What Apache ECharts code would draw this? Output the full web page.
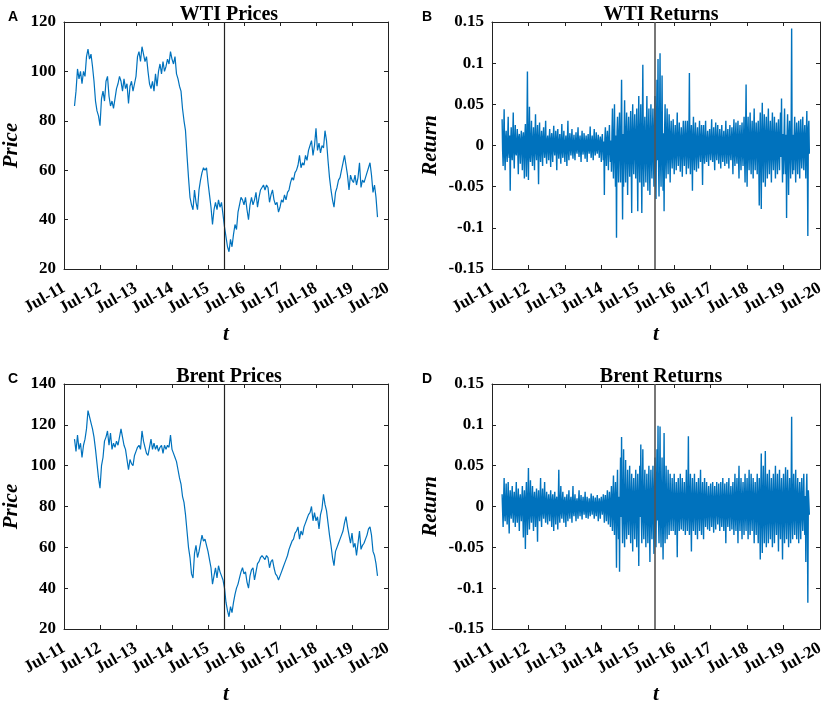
<!DOCTYPE html>
<html lang="en">
<head>
    <meta charset="UTF-8">
    <title>WTI and Brent</title>
    <script src="https://cdn.jsdelivr.net/npm/echarts@6/dist/echarts.min.js"></script>
    <style type="text/css">
        body { margin: 0; background: #fff; }
    </style>
</head>
<body>
<div id="myChart" style="width: 829px;height:706px;"></div>

<script>
    // x axis is "months since Jul-11"; one tick per year
    var tickYears = ['Jul-11', 'Jul-12', 'Jul-13', 'Jul-14', 'Jul-15', 'Jul-16', 'Jul-17', 'Jul-18', 'Jul-19', 'Jul-20'];
    var breakMonth = 53.5;   // the vertical line

    // prices, read every half month from month 3.5
    var priceStart = 3.5, priceStep = 0.5;
    var wtiPrice = [
        86, 92, 101, 97, 100, 95, 100, 98, 106, 109, 105, 107, 102, 96, 88, 84, 82, 78, 89, 92,
        88, 96, 98, 90, 86, 88, 85, 89, 93, 95, 98, 96, 92, 97, 93, 95, 87, 94, 96, 92,
        95, 98, 106, 108, 104, 110, 107, 104, 106, 100, 95, 93, 96, 92, 99, 94, 100, 103, 99, 104,
        100, 102, 105, 103, 108, 105, 103, 106, 99, 97, 94, 92, 85, 80, 76, 66, 57, 49, 46, 44,
        52, 47, 44, 52, 56, 59, 61, 60, 61, 55, 50, 45, 38, 44, 47, 44, 48, 45, 47, 42,
        37, 33, 29, 27, 32, 29, 34, 38, 36, 43, 46, 49, 48, 46, 49, 44, 40, 46, 49, 46,
        48, 51, 45, 49, 52, 53, 54, 52, 54, 53, 47, 50, 52, 48, 46, 47, 43, 45, 48, 47,
        50, 48, 51, 52, 55, 57, 56, 59, 60, 62, 66, 61, 63, 62, 66, 64, 68, 70, 72, 66,
        70, 77, 68, 71, 67, 70, 69, 76, 72, 64, 57, 52, 48, 45, 51, 53, 56, 57, 60, 63,
        66, 62, 58, 52, 58, 56, 55, 58, 54, 57, 63, 53, 56, 55, 57, 59, 61, 63, 58, 51,
        54, 49, 41
    ];
    var brentPrice = [
        113, 107, 115, 108, 111, 104, 110, 113, 118, 127, 124, 121, 118, 114, 108, 101, 94, 89, 100, 104,
        112, 114, 117, 110, 116, 108, 111, 109, 112, 110, 114, 118, 114, 110, 108, 103, 98, 103, 101, 100,
        105, 107, 109, 110, 108, 117, 112, 109, 106, 105, 109, 113, 108, 111, 108, 110, 107, 109, 110, 106,
        110, 108, 110, 109, 115, 108, 106, 104, 102, 98, 94, 91, 85, 82, 76, 68, 60, 55, 47, 45,
        57, 61, 55, 58, 62, 66, 63, 64, 61, 58, 54, 50, 42, 46, 50, 45, 51, 48, 46, 44,
        40, 33, 29, 26, 31, 28, 33, 37, 40, 42, 45, 48, 50, 47, 48, 43, 40, 46, 49, 50,
        44, 48, 52, 53, 55, 56, 55, 54, 56, 55, 50, 53, 54, 50, 47, 46, 44, 46, 48, 50,
        52, 54, 56, 59, 61, 63, 64, 67, 68, 70, 64, 68, 66, 70, 72, 74, 76, 77, 80, 73,
        77, 73, 75, 69, 76, 79, 86, 81, 78, 72, 66, 61, 55, 51, 58, 60, 62, 64, 66, 68,
        72, 75, 70, 66, 62, 67, 60, 62, 56, 62, 68, 59, 61, 62, 64, 66, 69, 70, 66, 58,
        56, 52, 46
    ];

    // returns, read six per month from month 3.33
    var retStart = 3.33, retStep = 1 / 6;
    var wtiReturn = [
        0.032, -0.006, -0.025, 0.010, 0.044, -0.012, -0.030, 0.008, 0.018, -0.010, -0.020, 0.006, 0.035, -0.008, -0.015, 0.012, -0.055, 0.004, 0.022, -0.010, -0.018, 0.009, 0.040, -0.007,
        -0.028, 0.006, 0.025, -0.009, -0.012, 0.004, 0.020, -0.008, -0.035, 0.010, 0.014, -0.005, -0.022, 0.007, 0.018, -0.006, -0.030, 0.009, 0.016, -0.008, -0.040, 0.011, 0.026, -0.006,
        -0.038, 0.012, 0.090, -0.010, -0.042, 0.008, 0.047, -0.012, -0.020, 0.006, 0.030, -0.009, -0.025, 0.007, 0.022, -0.008, -0.030, 0.010, 0.038, -0.006, -0.018, 0.008, 0.025, -0.010,
        -0.047, 0.009, 0.028, -0.007, -0.020, 0.006, 0.018, -0.008, -0.025, 0.010, 0.022, -0.005, -0.015, 0.007, 0.030, -0.009, -0.022, 0.006, 0.012, -0.004, -0.018, 0.008, 0.020, -0.006,
        -0.026, 0.007, 0.015, -0.006, -0.020, 0.008, 0.024, -0.005, -0.012, 0.004, 0.018, -0.007, -0.030, 0.009, 0.020, -0.006, -0.016, 0.005, 0.014, -0.008, -0.022, 0.006, 0.026, -0.007,
        -0.015, 0.005, 0.018, -0.006, -0.020, 0.004, 0.012, -0.005, -0.025, 0.007, 0.030, -0.006, -0.018, 0.005, 0.015, -0.004, -0.012, 0.006, 0.020, -0.005, -0.016, 0.004, 0.013, -0.006,
        -0.018, 0.004, 0.016, -0.005, -0.010, 0.006, 0.022, -0.004, -0.014, 0.005, 0.012, -0.006, -0.020, 0.004, 0.018, -0.005, -0.011, 0.003, 0.015, -0.005, -0.016, 0.004, 0.012, -0.004,
        -0.020, 0.005, 0.014, -0.004, -0.010, 0.003, 0.023, -0.005, -0.015, 0.004, 0.012, -0.006, -0.018, 0.005, 0.020, -0.004, -0.012, 0.003, 0.016, -0.005, -0.010, 0.004, 0.013, -0.003,
        -0.015, 0.004, 0.011, -0.005, -0.020, 0.006, 0.014, -0.004, -0.018, 0.005, -0.060, 0.008, 0.022, -0.006, -0.025, 0.007, 0.018, -0.005, -0.030, 0.008, 0.025, -0.007, -0.020, 0.006,
        -0.032, 0.012, 0.045, -0.015, -0.040, 0.010, 0.050, -0.014, -0.050, 0.012, -0.112, 0.016, 0.035, -0.012, -0.045, 0.014, 0.040, -0.010, -0.045, 0.015, 0.080, -0.012, -0.090, 0.014,
        -0.050, 0.015, 0.055, -0.012, -0.045, 0.016, 0.040, -0.014, -0.060, 0.012, 0.035, -0.015, -0.038, 0.013, 0.042, -0.016, -0.082, 0.014, 0.050, -0.012, -0.035, 0.015, 0.038, -0.013,
        -0.040, 0.014, 0.045, -0.016, -0.080, 0.015, 0.060, -0.013, -0.045, 0.016, 0.050, -0.014, -0.082, 0.012, 0.098, -0.015, -0.050, 0.014, 0.035, -0.016, -0.045, 0.013, 0.060, -0.015,
        -0.055, 0.016, 0.045, -0.018, -0.060, 0.015, 0.050, -0.017, -0.040, 0.018, 0.045, -0.016, -0.050, 0.019, 0.060, -0.018, -0.065, 0.020, 0.080, -0.018, 0.105, -0.020, -0.062, 0.018,
        0.112, -0.018, -0.050, 0.016, 0.085, -0.017, -0.055, 0.015, -0.080, 0.016, 0.050, -0.014, -0.040, 0.015, 0.045, -0.013, -0.035, 0.014, 0.038, -0.012, -0.045, 0.013, 0.030, -0.012,
        -0.028, 0.010, 0.032, -0.011, -0.035, 0.009, 0.025, -0.010, -0.030, 0.012, 0.040, -0.009, -0.025, 0.011, 0.028, -0.010, -0.032, 0.009, 0.022, -0.011, -0.038, 0.010, 0.030, -0.009,
        -0.025, 0.010, 0.030, -0.009, -0.035, 0.011, 0.030, -0.010, -0.028, 0.009, 0.088, -0.011, -0.035, 0.010, 0.025, -0.009, -0.055, 0.011, 0.035, -0.010, -0.030, 0.009, 0.028, -0.010,
        -0.032, 0.009, 0.022, -0.010, -0.028, 0.008, 0.030, -0.009, -0.020, 0.010, 0.025, -0.008, -0.048, 0.009, 0.025, -0.010, -0.022, 0.008, 0.030, -0.009, -0.020, 0.007, 0.018, -0.008,
        -0.025, 0.008, 0.020, -0.007, -0.018, 0.009, 0.032, -0.008, -0.020, 0.007, 0.022, -0.009, -0.030, 0.008, 0.028, -0.007, -0.018, 0.009, 0.025, -0.008, -0.022, 0.007, 0.020, -0.009,
        -0.028, 0.009, 0.025, -0.008, -0.020, 0.007, 0.018, -0.009, -0.025, 0.008, 0.030, -0.007, -0.022, 0.009, 0.020, -0.008, -0.028, 0.007, 0.025, -0.009, -0.018, 0.008, 0.022, -0.007,
        -0.035, 0.011, 0.032, -0.010, -0.025, 0.012, 0.028, -0.011, -0.022, 0.010, 0.030, -0.012, -0.040, 0.011, 0.025, -0.010, -0.030, 0.012, 0.028, -0.011, -0.025, 0.010, 0.035, -0.012,
        -0.045, 0.012, 0.074, -0.011, -0.050, 0.013, 0.035, -0.012, -0.030, 0.011, 0.040, -0.013, -0.035, 0.012, 0.030, -0.011, -0.040, 0.013, 0.045, -0.012, -0.030, 0.011, 0.028, -0.012,
        -0.035, 0.013, 0.030, -0.014, -0.073, 0.012, 0.040, -0.015, -0.077, 0.014, 0.052, -0.013, -0.045, 0.015, 0.038, -0.012, -0.050, 0.014, 0.035, -0.013, -0.040, 0.015, 0.045, -0.014,
        -0.035, 0.013, 0.030, -0.012, -0.045, 0.014, 0.040, -0.013, -0.030, 0.012, 0.035, -0.014, -0.040, 0.013, 0.028, -0.012, -0.035, 0.014, 0.032, -0.013, -0.030, 0.012, 0.040, -0.014,
        0.057, -0.013, -0.045, 0.014, -0.035, 0.012, 0.045, -0.015, -0.035, 0.013, -0.088, 0.014, 0.038, -0.012, -0.060, 0.015, 0.030, -0.013, -0.040, 0.014, 0.142, -0.012, -0.035, 0.013,
        -0.030, 0.012, 0.035, -0.013, -0.045, 0.011, 0.028, -0.012, -0.035, 0.013, 0.030, -0.011, -0.040, 0.012, 0.032, -0.013, -0.028, 0.011, 0.035, -0.012, -0.030, 0.013, 0.025, -0.011,
        -0.040, 0.012, 0.042, -0.015, -0.110, 0.020, 0.030, -0.010
    ];
    var brentReturn = [
        0.015, -0.006, -0.025, 0.008, 0.035, -0.009, -0.018, 0.007, 0.028, -0.008, -0.022, 0.006, 0.030, -0.009, -0.033, 0.008, 0.020, -0.007, -0.015, 0.009, 0.025, -0.006, -0.020, 0.008,
        0.018, -0.007, -0.025, 0.008, 0.030, -0.009, -0.020, 0.006, 0.022, -0.008, -0.030, 0.009, 0.015, -0.007, -0.018, 0.008, 0.025, -0.009, -0.038, 0.007, 0.020, -0.008, -0.052, 0.009,
        0.030, -0.008, -0.035, 0.009, 0.047, -0.010, -0.028, 0.008, 0.032, -0.009, -0.020, 0.007, 0.025, -0.008, -0.030, 0.009, 0.018, -0.007, -0.025, 0.008, 0.022, -0.009, -0.043, 0.007,
        0.020, -0.007, -0.018, 0.006, 0.035, -0.008, -0.025, 0.007, 0.022, -0.006, -0.015, 0.008, 0.030, -0.007, -0.020, 0.006, 0.018, -0.008, -0.022, 0.007, 0.015, -0.006, -0.018, 0.007,
        0.020, -0.006, -0.025, 0.007, 0.015, -0.008, -0.030, 0.006, 0.018, -0.007, -0.022, 0.008, 0.012, -0.006, -0.028, 0.007, 0.045, -0.008, -0.020, 0.006, 0.025, -0.007, -0.015, 0.006,
        0.018, -0.005, -0.020, 0.006, 0.012, -0.004, -0.025, 0.005, 0.015, -0.006, -0.018, 0.004, 0.020, -0.005, -0.015, 0.006, 0.012, -0.004, -0.020, 0.005, 0.025, -0.006, -0.012, 0.004,
        0.015, -0.004, -0.018, 0.005, 0.010, -0.004, -0.015, 0.005, 0.020, -0.003, -0.012, 0.004, 0.014, -0.005, -0.016, 0.004, 0.012, -0.003, -0.010, 0.004, 0.018, -0.005, -0.014, 0.003,
        0.012, -0.004, -0.015, 0.003, 0.010, -0.004, -0.012, 0.005, 0.016, -0.003, -0.010, 0.004, 0.013, -0.004, -0.015, 0.003, 0.011, -0.005, -0.012, 0.004, 0.014, -0.003, -0.018, 0.004,
        0.010, -0.004, -0.015, 0.005, 0.012, -0.003, -0.010, 0.004, 0.015, -0.005, -0.020, 0.006, 0.014, -0.005, -0.018, 0.006, 0.020, -0.007, -0.022, 0.006, 0.018, -0.007, -0.025, 0.008,
        0.025, -0.010, -0.030, 0.012, 0.038, -0.013, -0.035, 0.011, 0.030, -0.012, -0.075, 0.014, 0.045, -0.013, -0.040, 0.012, -0.080, 0.014, 0.060, -0.013, 0.085, -0.012, -0.045, 0.014,
        0.070, -0.014, -0.050, 0.013, 0.057, -0.015, -0.040, 0.012, 0.045, -0.014, -0.035, 0.013, 0.050, -0.012, -0.045, 0.014, 0.040, -0.013, -0.055, 0.015, 0.035, -0.012, -0.040, 0.013,
        0.045, -0.014, -0.050, 0.013, 0.040, -0.015, -0.073, 0.014, 0.050, -0.013, 0.076, -0.015, -0.045, 0.014, 0.070, -0.013, -0.040, 0.015, 0.045, -0.014, -0.050, 0.013, 0.040, -0.015,
        -0.045, 0.015, 0.050, -0.016, -0.068, 0.014, 0.045, -0.017, -0.040, 0.016, 0.050, -0.015, -0.058, 0.017, 0.060, -0.016, -0.050, 0.018, 0.070, -0.017, 0.099, -0.018, -0.045, 0.016,
        0.098, -0.017, -0.050, 0.016, 0.060, -0.018, -0.065, 0.015, 0.090, -0.016, -0.045, 0.014, 0.050, -0.015, -0.040, 0.013, 0.045, -0.014, -0.035, 0.013, 0.040, -0.012, -0.030, 0.012,
        0.035, -0.011, -0.030, 0.010, 0.040, -0.012, -0.035, 0.011, 0.030, -0.010, -0.062, 0.012, 0.035, -0.011, -0.030, 0.010, 0.040, -0.012, -0.028, 0.011, 0.035, -0.010, -0.030, 0.012,
        0.030, -0.011, -0.035, 0.010, 0.045, -0.012, -0.030, 0.011, 0.086, -0.010, -0.035, 0.012, 0.040, -0.011, -0.055, 0.010, 0.035, -0.012, -0.030, 0.011, 0.040, -0.010, -0.035, 0.012,
        0.030, -0.010, -0.040, 0.011, 0.035, -0.009, -0.030, 0.010, 0.045, -0.011, -0.035, 0.009, 0.030, -0.010, -0.040, 0.011, 0.035, -0.009, -0.025, 0.010, 0.030, -0.011, -0.028, 0.009,
        0.025, -0.009, -0.030, 0.010, 0.028, -0.008, -0.025, 0.009, 0.030, -0.010, -0.032, 0.008, 0.025, -0.009, -0.028, 0.010, 0.030, -0.008, -0.022, 0.009, 0.028, -0.010, -0.030, 0.008,
        0.030, -0.010, -0.025, 0.009, 0.035, -0.011, -0.030, 0.010, 0.028, -0.009, -0.045, 0.011, 0.030, -0.010, -0.025, 0.009, 0.035, -0.011, -0.030, 0.010, 0.025, -0.009, -0.028, 0.011,
        0.030, -0.012, -0.035, 0.011, 0.040, -0.013, -0.030, 0.012, 0.035, -0.011, -0.045, 0.013, 0.050, -0.012, -0.030, 0.011, 0.035, -0.013, -0.040, 0.012, 0.030, -0.011, -0.035, 0.013,
        0.040, -0.012, -0.030, 0.013, 0.035, -0.011, -0.040, 0.012, 0.045, -0.013, -0.035, 0.011, 0.040, -0.012, -0.030, 0.013, 0.035, -0.011, -0.045, 0.012, 0.030, -0.013, -0.035, 0.011,
        0.040, -0.014, -0.045, 0.015, 0.035, -0.013, -0.065, 0.016, 0.065, -0.014, -0.057, 0.015, 0.050, -0.016, -0.045, 0.014, 0.068, -0.015, -0.050, 0.016, 0.040, -0.014, -0.045, 0.015,
        0.045, -0.015, -0.040, 0.014, 0.035, -0.016, -0.050, 0.015, 0.040, -0.014, -0.045, 0.016, 0.050, -0.015, -0.035, 0.014, 0.040, -0.016, -0.055, 0.015, 0.045, -0.014, -0.040, 0.016,
        0.035, -0.015, -0.065, 0.014, 0.040, -0.016, -0.045, 0.015, 0.048, -0.014, -0.040, 0.016, 0.045, -0.015, -0.050, 0.014, 0.035, -0.016, -0.045, 0.015, 0.110, -0.014, -0.040, 0.015,
        0.040, -0.014, -0.035, 0.015, 0.045, -0.013, -0.040, 0.014, 0.035, -0.015, -0.045, 0.013, 0.030, -0.014, -0.040, 0.015, 0.035, -0.013, -0.030, 0.014, 0.040, -0.015, -0.035, 0.013,
        -0.068, 0.015, 0.040, -0.014, -0.118, 0.020, 0.022, -0.010
    ];

    var lineBlue = '#0072BD';
    var serif = 'Liberation Serif';

    function toPairs(values, start, step) {
        return values.map(function (v, i) {
            return [start + i * step, v];
        });
    }

    function fmtNum(v) {
        return parseFloat(v.toFixed(2)).toString();
    }

    // panels: grid box, y range, titles
    var panels = [
        {letter: 'A', title: 'WTI Prices', yName: 'Price', left: 60, top: 22, height: 247, min: 20, max: 120, step: 20, gap: 42,
            width: 1.2, vColor: '#222', vWidth: 1.2, data: toPairs(wtiPrice, priceStart, priceStep)},
        {letter: 'B', title: 'WTI Returns', yName: 'Return', left: 492, top: 22, height: 247, min: -0.15, max: 0.15, step: 0.05, gap: 51,
            width: 1.4, vColor: '#555', vWidth: 1.6, data: toPairs(wtiReturn, retStart, retStep)},
        {letter: 'C', title: 'Brent Prices', yName: 'Price', left: 60, top: 384, height: 248, min: 20, max: 140, step: 20, gap: 42,
            width: 1.2, vColor: '#222', vWidth: 1.2, data: toPairs(brentPrice, priceStart, priceStep)},
        {letter: 'D', title: 'Brent Returns', yName: 'Return', left: 492, top: 384, height: 248, min: -0.15, max: 0.15, step: 0.05, gap: 51,
            width: 1.4, vColor: '#555', vWidth: 1.6, data: toPairs(brentReturn, retStart, retStep)}
    ];

    var labelFont = {color: '#000', fontFamily: serif, fontWeight: 'bold', fontSize: 17};
    var axisLineStyle = {lineStyle: {color: '#222', width: 1}};

    var grid = [], xAxis = [], yAxis = [], series = [], title = [], graphic = [];

    panels.forEach(function (p, k) {
        var plotWidth = 328;
        grid.push({left: p.left, top: p.top, width: plotWidth, height: p.height, show: false});

        // bottom axis with labels, top axis only for the inside ticks
        xAxis.push({
            type: 'value', gridIndex: k, position: 'bottom', min: 0, max: 108, interval: 12,
            name: 't', nameLocation: 'middle', nameGap: 55,
            nameTextStyle: {color: '#000', fontFamily: serif, fontWeight: 'bold', fontStyle: 'italic', fontSize: 21},
            axisLine: Object.assign({onZero: false}, axisLineStyle),
            axisTick: {inside: true, length: 4, lineStyle: {color: '#222'}},
            splitLine: {show: false},
            axisLabel: Object.assign({
                rotate: 30, margin: 18, showMinLabel: true, showMaxLabel: true,
                formatter: function (v) { return tickYears[Math.round(v / 12)]; }
            }, labelFont)
        });
        xAxis.push({
            type: 'value', gridIndex: k, position: 'top', min: 0, max: 108, interval: 12,
            axisLine: Object.assign({onZero: false}, axisLineStyle),
            axisTick: {inside: true, length: 4, lineStyle: {color: '#222'}},
            axisLabel: {show: false}, splitLine: {show: false}
        });
        yAxis.push({
            type: 'value', gridIndex: k, position: 'left', min: p.min, max: p.max, interval: p.step,
            name: p.yName, nameLocation: 'middle', nameGap: p.gap,
            nameTextStyle: {color: '#000', fontFamily: serif, fontWeight: 'bold', fontStyle: 'italic', fontSize: 21},
            axisLine: Object.assign({show: true, onZero: false}, axisLineStyle),
            axisTick: {show: true, inside: true, length: 4, lineStyle: {color: '#222'}},
            splitLine: {show: false},
            axisLabel: Object.assign({margin: 8, formatter: fmtNum}, labelFont)
        });
        yAxis.push({
            type: 'value', gridIndex: k, position: 'right', min: p.min, max: p.max, interval: p.step,
            axisLine: Object.assign({show: true, onZero: false}, axisLineStyle),
            axisTick: {show: true, inside: true, length: 4, lineStyle: {color: '#222'}},
            axisLabel: {show: false}, splitLine: {show: false}
        });

        series.push({
            type: 'line', xAxisIndex: 2 * k, yAxisIndex: 2 * k,
            data: p.data, showSymbol: false, symbol: 'none', sampling: false,
            lineStyle: {color: lineBlue, width: p.width},
            markLine: {
                silent: true, symbol: ['none', 'none'],
                label: {show: false},
                lineStyle: {color: p.vColor, type: 'solid', width: p.vWidth},
                data: [{xAxis: breakMonth}]
            }
        });

        title.push({
            text: p.title, left: p.left + plotWidth / 2, textAlign: 'center', top: p.top - 22,
            textStyle: {color: '#000', fontFamily: serif, fontWeight: 'bold', fontSize: 20}
        });
        graphic.push({
            type: 'text', left: p.left < 100 ? 8 : 422, top: p.top - 12,
            style: {text: p.letter, fill: '#000', font: 'bold 14px "Liberation Sans"'}
        });
    });

    var myChart = echarts.init(document.getElementById('myChart'));
    myChart.setOption({
        animation: false,
        backgroundColor: '#fff',
        title: title,
        graphic: graphic,
        grid: grid,
        xAxis: xAxis,
        yAxis: yAxis,
        series: series
    });
</script>
</body>
</html>
